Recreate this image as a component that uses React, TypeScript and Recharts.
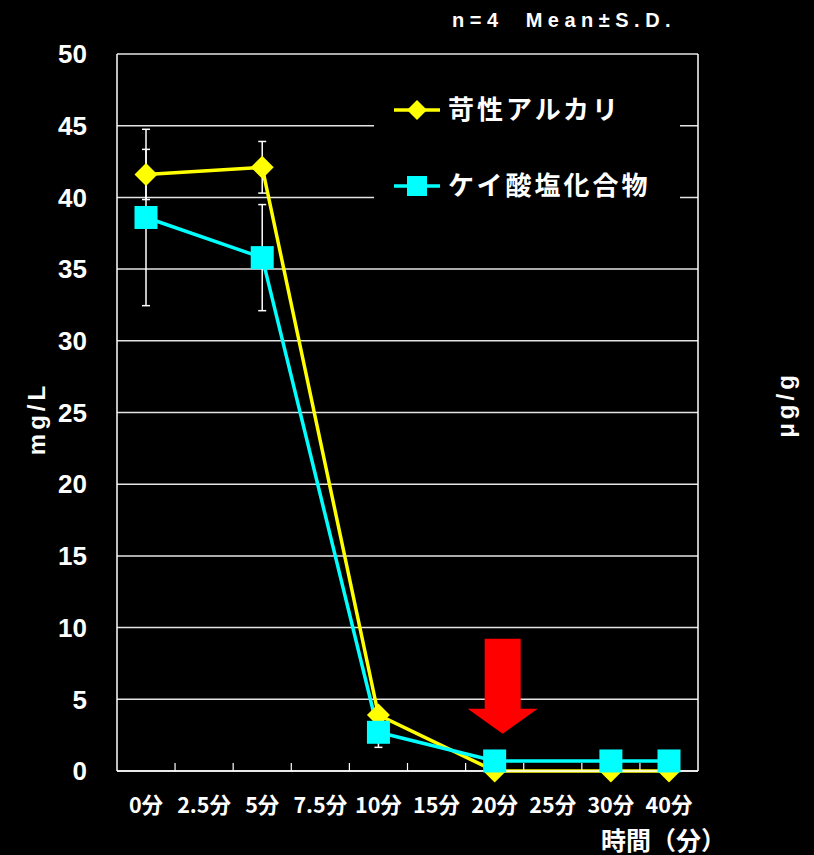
import React from 'react';
import {
  ComposedChart,
  Line,
  XAxis,
  YAxis,
  CartesianGrid,
  ErrorBar,
  Legend,
  ReferenceDot,
} from 'recharts';

// Sampling times (category axis)
const timeLabels = ['0分', '2.5分', '5分', '7.5分', '10分', '15分', '20分', '25分', '30分', '40分'];

// 苛性アルカリ (mg/L), mean and S.D.
const causticMean: (number | null)[] = [41.6, null, 42.1, null, 3.9, null, 0, null, 0, 0];
const causticSD: (number | null)[] = [1.75, null, 1.8, null, 0.4, null, 0, null, 0, 0];

// ケイ酸塩化合物 (mg/L), mean and S.D.
const silicateMean: (number | null)[] = [38.6, null, 35.8, null, 2.7, null, 0.7, null, 0.7, 0.7];
const silicateSD: (number | null)[] = [6.15, null, 3.7, null, 1.05, null, 0.1, null, 0.1, 0.1];

const mgPerLTicks = [0, 5, 10, 15, 20, 25, 30, 35, 40, 45, 50];
const ugPerGTicks = [0, 2, 4, 6, 8, 10, 12, 14, 16];
// tick marks halfway between neighbouring categories (category index units)
const bandEdges = [0.5, 1.5, 2.5, 3.5, 4.5, 5.5, 6.5, 7.5, 8.5];

const causticName = '苛性アルカリ';
const silicateName = 'ケイ酸塩化合物';
const seriesOrder = ['caustic', 'silicate'];
const noteText = 'n=4  Mean±S.D.';
const arrowTime = '20分';
const arrowTipValue = 2.6;

const YELLOW = '#ffff00';
const CYAN = '#00ffff';
const WHITE = '#ffffff';
const GRID = '#e4e4e4';
const CJK = '"Noto Sans CJK JP", "Noto Sans", sans-serif';
const LATIN = '"Liberation Sans", Arial, sans-serif';
const CATEGORY_PAD = { left: 29, right: 29 };

const data = timeLabels.map((time, i) => ({
  time,
  idx: i,
  caustic: causticMean[i],
  causticErr: causticSD[i],
  silicate: silicateMean[i],
  silicateErr: silicateSD[i],
}));

const diamondDot = (props: any) => {
  const { cx, cy, index } = props;
  if (cx == null || cy == null) return <g key={`d-${index}`} />;
  const r = 11.5;
  return (
    <polygon
      key={`d-${index}`}
      points={`${cx},${cy - r} ${cx + r},${cy} ${cx},${cy + r} ${cx - r},${cy}`}
      fill={YELLOW}
    />
  );
};

const squareDot = (props: any) => {
  const { cx, cy, index } = props;
  if (cx == null || cy == null) return <g key={`s-${index}`} />;
  const h = 11.5;
  return <rect key={`s-${index}`} x={cx - h} y={cy - h} width={2 * h} height={2 * h} fill={CYAN} />;
};

// Red downward arrow whose tip sits on the given point
const DownArrow = (props: any) => {
  const { cx, cy } = props;
  if (cx == null || cy == null) return <g />;
  const x = cx + 8;
  const d = [
    `M${x - 18},${cy - 95}`,
    `L${x + 18},${cy - 95}`,
    `L${x + 18},${cy - 25}`,
    `L${x + 35},${cy - 25}`,
    `L${x},${cy}`,
    `L${x - 35},${cy - 25}`,
    `L${x - 18},${cy - 25}`,
    'Z',
  ].join(' ');
  return <path d={d} fill="#ff0000" />;
};

const NoTickLabel = () => <g />;

const LegendBox = (props: any) => {
  const items = (props.payload || [])
    .filter((p: any) => p.type !== 'none')
    .slice()
    .sort((a: any, b: any) => seriesOrder.indexOf(a.dataKey) - seriesOrder.indexOf(b.dataKey));
  return (
    <svg width={306} height={140} style={{ display: 'block', background: '#000' }}>
      {items.map((item: any, i: number) => {
        const y = 30 + i * 76;
        const isCaustic = item.dataKey === 'caustic';
        return (
          <g key={item.value}>
            <line x1={20} x2={66} y1={y} y2={y} stroke={item.color} strokeWidth={3.5} />
            {isCaustic ? (
              <polygon points={`43,${y - 10} 53,${y} 43,${y + 10} 33,${y}`} fill={item.color} />
            ) : (
              <rect x={33} y={y - 10} width={20} height={20} fill={item.color} />
            )}
            <text
              x={74}
              y={y}
              dy="0.36em"
              fill={WHITE}
              fontFamily={CJK}
              fontWeight={700}
              fontSize={26}
              letterSpacing={3}
            >
              {item.value}
            </text>
          </g>
        );
      })}
    </svg>
  );
};

const SideTitle = (props: any) => {
  const { viewBox, text, dx, dy } = props;
  const cx = viewBox.x + dx;
  const cy = viewBox.y + viewBox.height / 2 + dy;
  return (
    <text
      x={cx}
      y={cy}
      transform={`rotate(-90, ${cx}, ${cy})`}
      textAnchor="middle"
      dominantBaseline="central"
      fill={WHITE}
      fontFamily={LATIN}
      fontWeight={700}
      fontSize={24}
      letterSpacing={4}
    >
      {text}
    </text>
  );
};

const BottomTitle = (props: any) => {
  const { viewBox } = props;
  return (
    <text
      x={viewBox.x + viewBox.width + 28}
      y={viewBox.y + viewBox.height - 5}
      textAnchor="end"
      fill={WHITE}
      fontFamily={CJK}
      fontWeight={700}
      fontSize={25}
    >
      時間（分）
    </text>
  );
};

export default function App() {
  return (
    <div
      style={{
        position: 'absolute',
        left: 0,
        top: 0,
        width: 814,
        height: 855,
        background: '#000',
        overflow: 'hidden',
      }}
    >
      <div
        style={{
          position: 'absolute',
          left: 452,
          top: 8,
          color: WHITE,
          fontFamily: LATIN,
          fontWeight: 700,
          fontSize: 20,
          letterSpacing: 5.5,
          whiteSpace: 'pre',
          lineHeight: '24px',
        }}
      >
        {noteText}
      </div>
      <ComposedChart
        width={814}
        height={855}
        data={data}
        margin={{ top: 54, right: 0, bottom: 0, left: 0 }}
      >
        <CartesianGrid
          xAxisId="cat"
          yAxisId="left"
          vertical={false}
          stroke={GRID}
          strokeWidth={1.5}
        />
        <XAxis
          xAxisId="cat"
          dataKey="time"
          type="category"
          height={84}
          padding={CATEGORY_PAD}
          interval={0}
          tickLine={false}
          tickSize={0}
          tickMargin={27}
          axisLine={{ stroke: WHITE, strokeWidth: 1.5 }}
          tick={{ fill: WHITE, fontFamily: CJK, fontWeight: 700, fontSize: 21.5 }}
          label={{ content: <BottomTitle /> }}
        />
        {/* category-boundary tick marks pointing into the plot */}
        <XAxis
          xAxisId="edges"
          dataKey="idx"
          type="number"
          domain={[0, 9]}
          allowDataOverflow
          padding={CATEGORY_PAD}
          ticks={bandEdges}
          interval={0}
          mirror
          height={1}
          tickSize={8}
          axisLine={false}
          tick={<NoTickLabel />}
          tickLine={{ stroke: WHITE, strokeWidth: 1.2 }}
        />
        <YAxis
          yAxisId="left"
          width={117}
          domain={[0, 50]}
          ticks={mgPerLTicks}
          interval={0}
          tickLine={false}
          tickSize={0}
          tickMargin={30}
          axisLine={{ stroke: WHITE, strokeWidth: 1.5 }}
          tick={{ fill: WHITE, fontFamily: LATIN, fontWeight: 700, fontSize: 26 }}
          label={{ content: <SideTitle text="mg/L" dx={36} dy={6} /> }}
        />
        <YAxis
          yAxisId="right"
          orientation="right"
          width={116}
          domain={[0, 16]}
          ticks={ugPerGTicks}
          interval={0}
          tickSize={-8}
          tickMargin={37}
          tickLine={{ stroke: WHITE, strokeWidth: 1.2 }}
          axisLine={{ stroke: WHITE, strokeWidth: 1.5 }}
          tick={{ fill: WHITE, fontFamily: LATIN, fontWeight: 700, fontSize: 26 }}
          label={{ content: <SideTitle text="μg/g" dx={87} dy={-8} /> }}
        />

        {/* S.D. bars drawn first so every marker sits above them */}
        <Line
          xAxisId="cat"
          yAxisId="left"
          dataKey="caustic"
          stroke="none"
          dot={false}
          activeDot={false}
          legendType="none"
          connectNulls
          isAnimationActive={false}
        >
          <ErrorBar dataKey="causticErr" width={4} stroke={WHITE} strokeWidth={1.5} />
        </Line>
        <Line
          xAxisId="cat"
          yAxisId="left"
          dataKey="silicate"
          stroke="none"
          dot={false}
          activeDot={false}
          legendType="none"
          connectNulls
          isAnimationActive={false}
        >
          <ErrorBar dataKey="silicateErr" width={4} stroke={WHITE} strokeWidth={1.5} />
        </Line>

        <Line
          xAxisId="cat"
          yAxisId="left"
          name={causticName}
          dataKey="caustic"
          stroke={YELLOW}
          strokeWidth={3.5}
          dot={diamondDot}
          activeDot={false}
          connectNulls
          isAnimationActive={false}
        />
        <Line
          xAxisId="cat"
          yAxisId="left"
          name={silicateName}
          dataKey="silicate"
          stroke={CYAN}
          strokeWidth={3.5}
          dot={squareDot}
          activeDot={false}
          connectNulls
          isAnimationActive={false}
        />

        <ReferenceDot
          xAxisId="cat"
          yAxisId="left"
          x={arrowTime}
          y={arrowTipValue}
          ifOverflow="visible"
          shape={<DownArrow />}
        />

        <Legend
          layout="horizontal"
          verticalAlign="middle"
          align="center"
          content={<LegendBox />}
          wrapperStyle={{ left: 374, top: 80, width: 306, height: 140 }}
        />
      </ComposedChart>
    </div>
  );
}
